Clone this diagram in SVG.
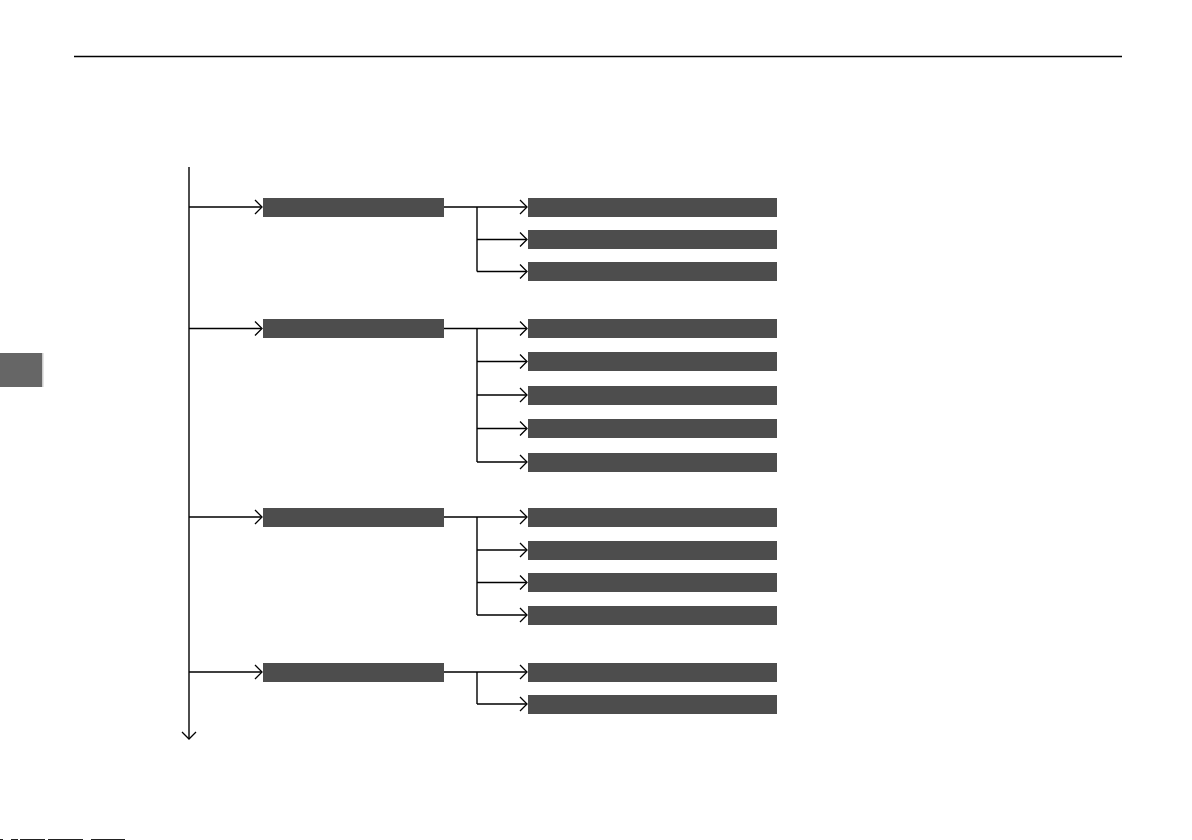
<svg xmlns="http://www.w3.org/2000/svg" width="1192" height="840" viewBox="0 0 1192 840">
<style>
.box{fill:#4d4d4d}
.ln{stroke:#000;stroke-width:1.4;fill:none}
.ah{stroke:#000;stroke-width:1.3;fill:none}
</style>
<rect width="1192" height="840" fill="#fff"/>
<line x1="74" y1="56.5" x2="1122" y2="56.5" stroke="#000" stroke-width="1.5"/>
<g id="side-tab"><rect x="0" y="353" width="42" height="34" fill="#666"/><rect x="42" y="353" width="1.5" height="34" fill="#ccc"/></g>
<g id="connectors">
<path class="ln" d="M189 167V739"/>
<path class="ah" d="M182 732L189 739L196 732"/>
<path class="ln" d="M189 207H261M189 328.5H261M189 517H261M189 672H261"/>
<path class="ah" d="M255 200L262 207L255 214M255 321.5L262 328.5L255 335.5M255 510L262 517L255 524M255 665L262 672L255 679"/>
<path class="ln" d="M444 207H526M477 207V271.5M477 239.5H526M477 271.5H526"/>
<path class="ln" d="M444 328.5H526M477 328.5V462M477 361.5H526M477 395H526M477 428.5H526M477 462H526"/>
<path class="ln" d="M444 517H526M477 517V615M477 550H526M477 582.5H526M477 615H526"/>
<path class="ln" d="M444 672H526M477 672V704M477 704H526"/>
<path class="ah" d="M520 200L527 207L520 214M520 232.5L527 239.5L520 246.5M520 264.5L527 271.5L520 278.5"/>
<path class="ah" d="M520 321.5L527 328.5L520 335.5M520 354.5L527 361.5L520 368.5M520 388L527 395L520 402M520 421.5L527 428.5L520 435.5M520 455L527 462L520 469"/>
<path class="ah" d="M520 510L527 517L520 524M520 543L527 550L520 557M520 575.5L527 582.5L520 589.5M520 608L527 615L520 622"/>
<path class="ah" d="M520 665L527 672L520 679M520 697L527 704L520 711"/>
</g>
<g id="n1"><rect class="box" x="263" y="198" width="181" height="19"/></g>
<g id="n1a"><rect class="box" x="528" y="198" width="249" height="19"/></g>
<g id="n1b"><rect class="box" x="528" y="230" width="249" height="19"/></g>
<g id="n1c"><rect class="box" x="528" y="262" width="249" height="19"/></g>
<g id="n2"><rect class="box" x="263" y="319" width="181" height="19"/></g>
<g id="n2a"><rect class="box" x="528" y="319" width="249" height="19"/></g>
<g id="n2b"><rect class="box" x="528" y="352" width="249" height="19"/></g>
<g id="n2c"><rect class="box" x="528" y="386" width="249" height="19"/></g>
<g id="n2d"><rect class="box" x="528" y="419" width="249" height="19"/></g>
<g id="n2e"><rect class="box" x="528" y="453" width="249" height="19"/></g>
<g id="n3"><rect class="box" x="263" y="508" width="181" height="19"/></g>
<g id="n3a"><rect class="box" x="528" y="508" width="249" height="19"/></g>
<g id="n3b"><rect class="box" x="528" y="541" width="249" height="19"/></g>
<g id="n3c"><rect class="box" x="528" y="573" width="249" height="19"/></g>
<g id="n3d"><rect class="box" x="528" y="606" width="249" height="19"/></g>
<g id="n4"><rect class="box" x="263" y="663" width="181" height="19"/></g>
<g id="n4a"><rect class="box" x="528" y="663" width="249" height="19"/></g>
<g id="n4b"><rect class="box" x="528" y="695" width="249" height="19"/></g>
<path d="M0 839.5H3M11 839.5H18M20 839.5H45M48 839.5H83M91 839.5H125" stroke="#222" stroke-width="1"/>
</svg>
